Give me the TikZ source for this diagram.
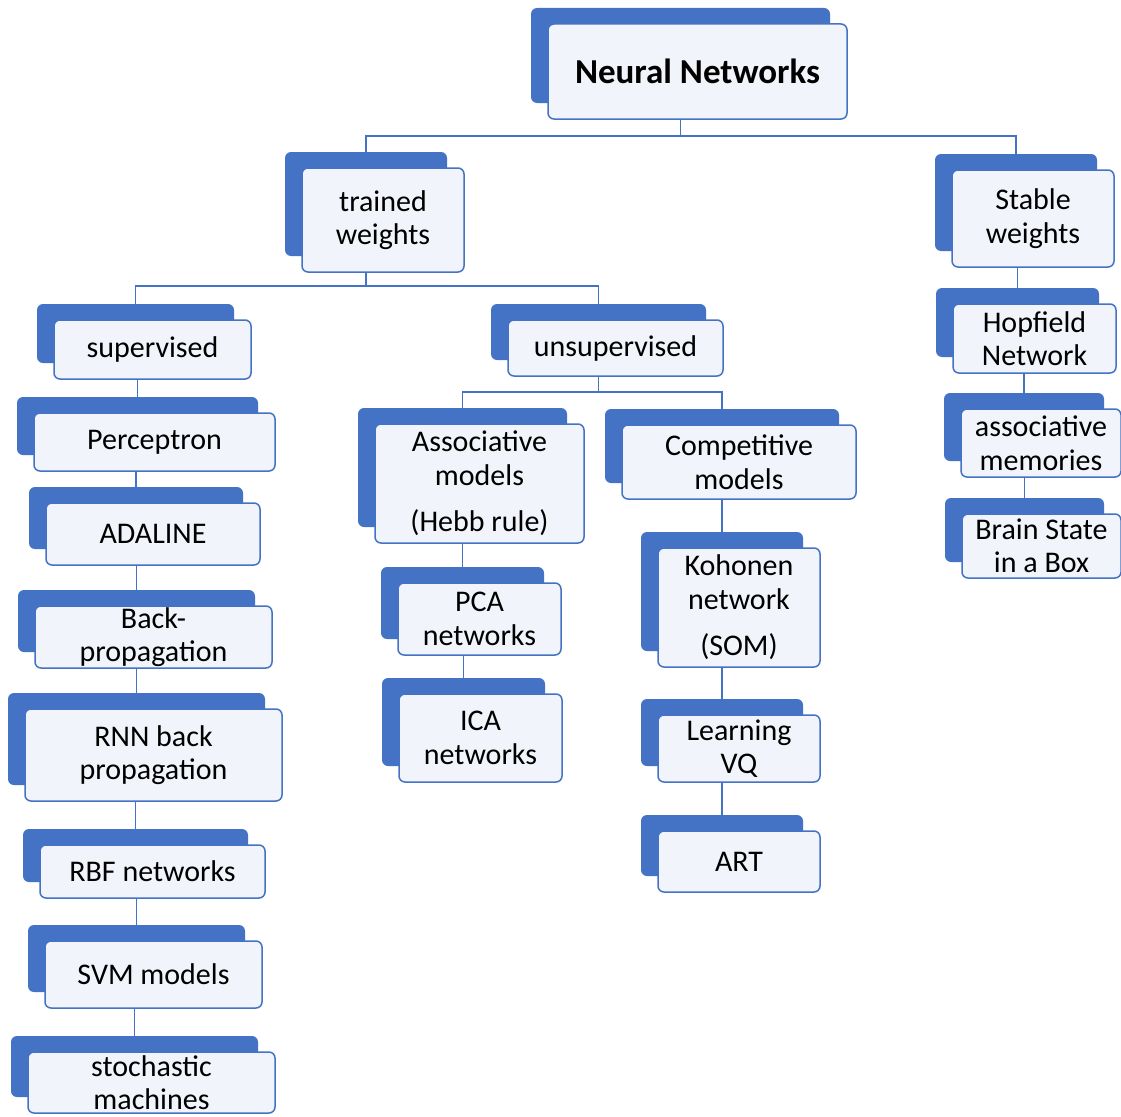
\documentclass[tikz,border=0pt]{standalone}
\usepackage{fontspec}
\setmainfont{Carlito}
\definecolor{nnblue}{HTML}{4472C4}
\definecolor{nnfill}{HTML}{F1F4FA}
\tikzset{
 backbox/.style={fill=nnblue, rounded corners=6pt, inner sep=0pt},
 frontbox/.style={draw=nnblue, line width=1.5pt, fill=nnfill, rounded corners=6pt, inner sep=0pt},
 boxtext/.style={inner sep=0pt, align=center, font=\fontsize{30}{33.5}\selectfont},
 conn/.style={draw=nnblue, line width=1.4pt}
}
\newcommand\nnbox[6]{%
 \node[backbox, minimum width={(#4-#2)*1pt}, minimum height={(#5-#3)*1pt}] (#1b) at ({(#2+#4)/2-17},{(#3+#5)/2-16}) {};
 \node[frontbox, minimum width={(#4-#2)*1pt}, minimum height={(#5-#3)*1pt}] (#1) at ({(#2+#4)/2},{(#3+#5)/2}) {};
 \node[boxtext] (#1t) at (#1.center) {#6};
}
\begin{document}
\begin{tikzpicture}[x=1pt,y=-1pt]
\fill[white] (0,0) rectangle (1121,1116);
\useasboundingbox (0,0) rectangle (1121,1116);
\begin{scope}
\clip (0,0) rectangle (1121,1116);
\nnbox{nn}{548}{24}{847}{119}{\fontsize{35}{40}\selectfont\bfseries Neural Networks}
\nnbox{tw}{302}{168}{464}{272}{trained\\weights}
\nnbox{sw}{952}{170}{1114}{267}{Stable\\weights}
\nnbox{sup}{54}{320}{251}{379}{supervised}
\nnbox{uns}{508}{320}{723}{376}{unsupervised}
\nnbox{perc}{34}{413}{275}{471}{Perceptron}
\nnbox{ada}{46}{503}{260}{565}{ADALINE}
\nnbox{bp}{35}{606}{272}{668}{Back-\\propagation}
\nnbox{rnn}{25}{709}{282}{801}{RNN back\\propagation}
\nnbox{rbf}{40}{845}{265}{898}{RBF networks}
\nnbox{svm}{45}{941}{262}{1008}{SVM models}
\nnbox{sto}{28}{1052}{275}{1113}{stochastic\\machines}
\nnbox{assoc}{375}{424}{584}{543}{Associative\\models\\[13pt](Hebb rule)}
\nnbox{comp}{622}{425}{856}{499}{Competitive\\models}
\nnbox{pca}{398}{583}{561}{655}{PCA\\networks}
\nnbox{ica}{399}{694}{562}{782}{ICA\\networks}
\nnbox{koh}{658}{548}{820}{667}{Kohonen\\network\\[13pt](SOM)}
\nnbox{lvq}{658}{715}{820}{782}{Learning\\VQ}
\nnbox{art}{658}{831}{820}{892}{ART}
\nnbox{hop}{953}{304}{1116}{373}{Hopfield\\Network}
\nnbox{am}{961}{409}{1121}{477}{associative\\memories}
\nnbox{bsb}{962}{514}{1121}{578}{Brain State\\in a Box}
\end{scope}
\coordinate (bar1) at (0,136);
\coordinate (bar2) at (0,286);
\coordinate (bar3) at (0,392);
% top level
\draw[conn] (nnb.south |- nn.south) -- (nnb.south |- bar1) -| (twb.north);
\draw[conn] (nnb.south |- bar1) -| (swb.north);
% trained weights
\draw[conn] (twb.south |- tw.south) -- (twb.south |- bar2) -| (supb.north);
\draw[conn] (twb.south |- bar2) -| (unsb.north);
% unsupervised
\draw[conn] (unsb.south |- uns.south) -- (unsb.south |- bar3) -| (assocb.north);
\draw[conn] (unsb.south |- bar3) -| (compb.north);
% chains
\draw[conn] (percb.north) -- (percb.north |- sup.south);
\draw[conn] (adab.north) -- (adab.north |- perc.south);
\draw[conn] (bpb.north) -- (bpb.north |- ada.south);
\draw[conn] (rnnb.north) -- (rnnb.north |- bp.south);
\draw[conn] (rbfb.north) -- (rbfb.north |- rnn.south);
\draw[conn] (svmb.north) -- (svmb.north |- rbf.south);
\draw[conn] (stob.north) -- (stob.north |- svm.south);
\draw[conn] (pcab.north) -- (pcab.north |- assoc.south);
\draw[conn] (icab.north) -- (icab.north |- pca.south);
\draw[conn] (kohb.north) -- (kohb.north |- comp.south);
\draw[conn] (lvqb.north) -- (lvqb.north |- koh.south);
\draw[conn] (artb.north) -- (artb.north |- lvq.south);
\draw[conn] (hopb.north) -- (hopb.north |- sw.south);
\draw[conn] (amb.north) -- (amb.north |- hop.south);
\draw[conn] (bsbb.north) -- (bsbb.north |- am.south);
\end{tikzpicture}
\end{document}
